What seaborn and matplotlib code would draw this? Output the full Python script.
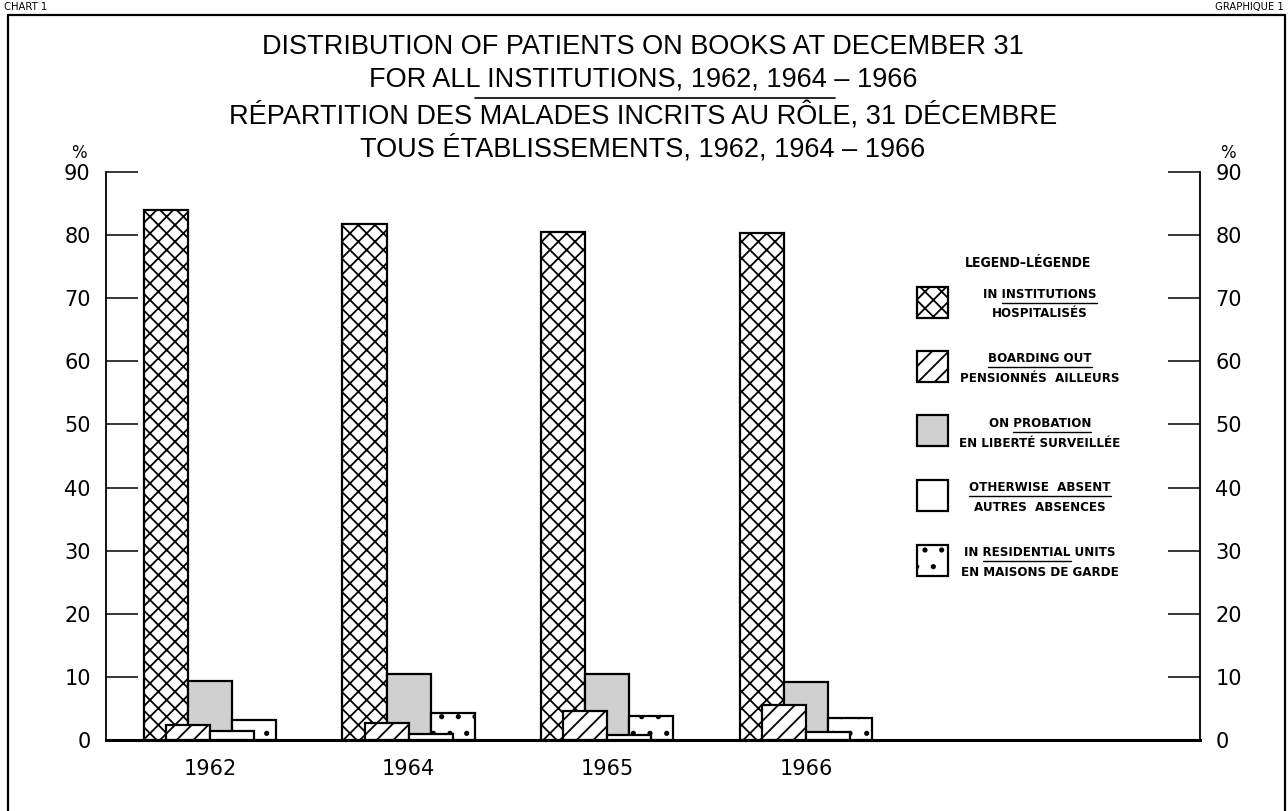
import matplotlib
matplotlib.use("Agg")
import matplotlib.pyplot as plt
from matplotlib.patches import Rectangle
from matplotlib.lines import Line2D
import numpy as np
import pandas as pd
import seaborn as sns

# data (% of patients on books at December 31)
years = ["1962", "1964", "1965", "1966"]
in_institutions = [84.0, 81.7, 80.5, 80.4]
boarding_out = [2.3, 2.7, 4.6, 5.6]
on_probation = [9.4, 10.5, 10.4, 9.2]
otherwise_absent = [1.4, 1.0, 0.8, 1.2]
residential_units = [3.2, 4.2, 3.8, 3.5]
y_ticks = [0, 10, 20, 30, 40, 50, 60, 70, 80, 90]

title_lines = [
    "DISTRIBUTION OF PATIENTS ON BOOKS AT DECEMBER 31",
    "FOR ALL INSTITUTIONS, 1962, 1964 – 1966",
    "RÉPARTITION DES MALADES INCRITS AU RÔLE, 31 DÉCEMBRE",
    "TOUS ÉTABLISSEMENTS, 1962, 1964 – 1966",
]
legend_title = "LEGEND–LÉGENDE"
legend_en = ["IN INSTITUTIONS", "BOARDING OUT", "ON PROBATION",
             "OTHERWISE  ABSENT", "IN RESIDENTIAL UNITS"]
legend_fr = ["HOSPITALISÉS", "PENSIONNÉS  AILLEURS", "EN LIBERTÉ SURVEILLÉE",
             "AUTRES  ABSENCES", "EN MAISONS DE GARDE"]
legend_underline = ["INSTITUTIONS", "BOARDING OUT", "PROBATION",
                    "OTHERWISE  ABSENT", "RESIDENTIAL"]

# styles (drawing order: back row first, overlapping bars on top)
series = [
    (in_institutions, -2, "white", "xx", 2),
    (on_probation, 0, "#d0d0d0", None, 2),
    (residential_units, 2, "white", ".", 2),
    (boarding_out, -1, "white", "//", 3),
    (otherwise_absent, 1, "white", None, 3),
]
legend_styles = [("white", "xx"), ("white", "//"), ("#d0d0d0", None),
                 ("white", None), ("white", ".")]

sns.set_theme(style="ticks")
plt.rcParams["font.family"] = ["DejaVu Sans"]
plt.rcParams["hatch.linewidth"] = 1.3
plt.rcParams["hatch.color"] = "black"
plt.rcParams["text.color"] = "black"
plt.rcParams["xtick.color"] = "black"
plt.rcParams["ytick.color"] = "black"

narrow = dict(family=["Liberation Sans Narrow", "DejaVu Sans"], fontstretch="condensed")
plain = dict(family=["Liberation Sans", "DejaVu Sans"])

W, H = 1288, 811
fig = plt.figure(figsize=(W / 100, H / 100), dpi=100)
fig.patch.set_facecolor("white")


def fx(px):
    return px / W


def fy(py):
    return 1 - py / H


ax = fig.add_axes([fx(106), fy(740), fx(1200) - fx(106), fy(172) - fy(740)])
ax.set_facecolor("white")

step = 0.111
for vals, k, color, hatch, z in series:
    df = pd.DataFrame({"x": np.arange(len(years)) + k * step, "y": vals})
    sns.barplot(data=df, x="x", y="y", native_scale=True, width=2 * step,
                color=color, saturation=1, edgecolor="black", linewidth=1.6,
                hatch=hatch, errorbar=None, zorder=z, ax=ax)

ax.set_xlim(-0.523, -0.523 + 1094 / 198.7)
ax.set_ylim(0, 90)
ax.set_xticks(np.arange(len(years)))
ax.set_xticklabels(years)
ax.set_yticks(y_ticks)
ax.set_xlabel("")
ax.set_ylabel("")
ax.tick_params(axis="y", direction="in", length=23, width=1.1, color="black",
               left=True, right=True, labelleft=True, labelright=True,
               pad=11, labelsize=15, labelcolor="black")
ax.tick_params(axis="x", length=0, pad=14, labelsize=15, labelcolor="black")
ax.spines["top"].set_visible(False)
ax.spines["bottom"].set_linewidth(2.2)
for s in ["left", "right", "bottom"]:
    ax.spines[s].set_color("black")
ax.spines["left"].set_linewidth(1.3)
ax.spines["right"].set_linewidth(1.3)
ax.grid(False)

# frame and header
for xs, ys in [([8, 8], [15, 811]), ([8, 1285], [15, 15]), ([1285, 1285], [15, 811])]:
    fig.add_artist(Line2D([fx(v) for v in xs], [fy(v) for v in ys],
                          transform=fig.transFigure, color="black", lw=1.6))
fig.text(fx(4), fy(7), "CHART 1", ha="left", va="center", fontsize=8, **narrow)
fig.text(fx(1284), fy(7), "GRAPHIQUE 1", ha="right", va="center", fontsize=8, **narrow)

for line, py in zip(title_lines, [47, 80, 117, 149]):
    fig.text(fx(643), fy(py), line, ha="center", va="center", fontsize=19.5, **plain)
fig.add_artist(Line2D([fx(475), fx(835)], [fy(98), fy(98)],
                      transform=fig.transFigure, color="black", lw=1.2))

fig.text(fx(79), fy(153), "%", ha="center", va="center", fontsize=12)
fig.text(fx(1228), fy(153), "%", ha="center", va="center", fontsize=12)

# legend
fig.text(fx(1028), fy(263), legend_title, ha="center", va="center",
         fontsize=10, fontweight="bold", **narrow)
renderer = fig.canvas.get_renderer()


def text_width(s, **kw):
    t = fig.text(0, 0, s, **kw)
    w = t.get_window_extent(renderer).width
    t.remove()
    return w


lfont = dict(fontsize=9.5, fontweight="bold", **narrow)
for i, (en, fr, word, (fc, hatch)) in enumerate(zip(legend_en, legend_fr, legend_underline, legend_styles)):
    cy = 302 + i * 64.5
    sq = 31
    fig.add_artist(Rectangle((fx(917), fy(cy + sq / 2)), sq / W, sq / H,
                             transform=fig.transFigure, facecolor=fc, edgecolor="black",
                             hatch=hatch, lw=1.6))
    t_en = fig.text(fx(1040), fy(cy - 8), en, ha="center", va="center", **lfont)
    fig.text(fx(1040), fy(cy + 12), fr, ha="center", va="center", **lfont)
    bb = t_en.get_window_extent(renderer)
    j = en.find(word)
    pre = text_width(en[:j] + "X", **lfont) - text_width("X", **lfont) if j > 0 else 0
    wd = text_width(word + "X", **lfont) - text_width("X", **lfont)
    x0 = bb.x0 + pre
    yline = bb.y0 - 2
    fig.add_artist(Line2D([x0 / W, (x0 + wd) / W], [yline / H, yline / H],
                          transform=fig.transFigure, color="black", lw=1.0))

fig.savefig("out.png", dpi=100, facecolor="white")
